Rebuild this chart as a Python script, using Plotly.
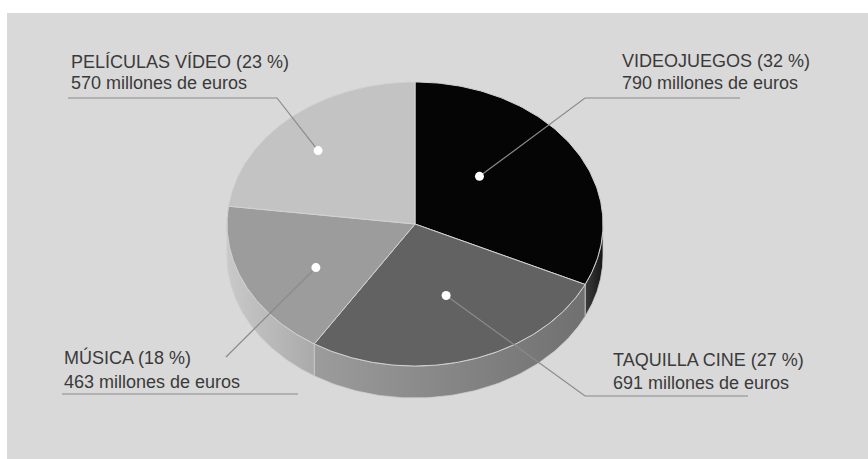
import numpy as np
import plotly.graph_objects as go

# Spending on audiovisual entertainment, by sector
categories = ["VIDEOJUEGOS", "TAQUILLA CINE", "MÚSICA", "PELÍCULAS VÍDEO"]
percent = [32, 27, 18, 23]
millions = [790, 691, 463, 570]

# slice styling
top_colors = ["#050505", "#626262", "#9c9c9c", "#c3c3c3"]
side_colors = [("#3c3c3c", "#161616"), ("#9c9c9c", "#707070"),
               ("#c9c9c9", "#aaaaaa"), ("#cfcfcf", "#bdbdbd")]
dot_radius = [0.48, 0.53, 0.61, 0.73]
dot_shift = [12, 2, 5, 3.5]

# label layout: x, first-line y, second-line y, leader polyline after the dot
label_pos = [
    (620, 60.5, 82.5, [(585, 98), (740, 98)]),
    (611, 360, 383, [(585, 396), (748, 396)]),
    (62, 357, 381.5, [(226, 357)]),
    (69, 61.5, 83, [(277, 98), (68, 98)]),
]
extra_rules = [[(62, 394), (298, 394)]]

W, H = 868, 459
CX, CY, RX, RY, DEPTH = 415, 224, 188, 142, 32
BG = "#d9d9d9"
INK = "#3a3a3a"
LEADER = "#8a8a8a"


def ell(theta_deg, r=1.0, dy=0.0):
    t = np.radians(theta_deg)
    return CX + r * RX * np.cos(t), CY - r * RY * np.sin(t) + dy


# slice angles: start at 12 o'clock, run clockwise
total = sum(percent)
spans = [360.0 * p / total for p in percent]
starts, ends = [], []
a = 90.0
for s in spans:
    starts.append(a)
    ends.append(a - s)
    a -= s

fig = go.Figure()

# side walls (only the front half of the disc is visible)
for i in range(len(categories)):
    hi = min(starts[i], 0.0)
    lo = max(ends[i], -180.0)
    if lo >= hi:
        continue
    th = np.linspace(hi, lo, 80)
    xt, yt = ell(th)
    xb, yb = ell(th[::-1], dy=DEPTH)
    xs = np.concatenate([xt, xb, xt[:1]])
    ys = np.concatenate([yt, yb, yt[:1]])
    c1, c2 = side_colors[i]
    fig.add_trace(go.Scatter(
        x=xs, y=ys, mode="lines", fill="toself",
        fillgradient=dict(type="horizontal",
                          colorscale=[[0, c1], [1, c2]]),
        line=dict(color="#cdcdcd", width=0.8),
        hoverinfo="skip", showlegend=False))

# top face
for i in range(len(categories)):
    th = np.linspace(starts[i], ends[i], 120)
    xa, ya = ell(th)
    xs = np.concatenate([[CX], xa, [CX]])
    ys = np.concatenate([[CY], ya, [CY]])
    fig.add_trace(go.Scatter(
        x=xs, y=ys, mode="lines", fill="toself", fillcolor=top_colors[i],
        line=dict(color="#d2d2d2", width=1),
        hoverinfo="skip", showlegend=False,
        name=categories[i]))

# leader lines and dots
dots_x, dots_y = [], []
for i in range(len(categories)):
    mid = (starts[i] + ends[i]) / 2 + dot_shift[i]
    dx, dy = ell(mid, r=dot_radius[i])
    dots_x.append(dx)
    dots_y.append(dy)
    pts = [(dx, dy)] + label_pos[i][3]
    fig.add_trace(go.Scatter(
        x=[p[0] for p in pts], y=[p[1] for p in pts], mode="lines",
        line=dict(color=LEADER, width=1.2),
        hoverinfo="skip", showlegend=False))

for rule in extra_rules:
    fig.add_trace(go.Scatter(
        x=[p[0] for p in rule], y=[p[1] for p in rule], mode="lines",
        line=dict(color=LEADER, width=1.2),
        hoverinfo="skip", showlegend=False))

fig.add_trace(go.Scatter(
    x=dots_x, y=dots_y, mode="markers",
    marker=dict(color="white", size=9, line=dict(width=0)),
    hoverinfo="skip", showlegend=False))

# labels
font = dict(family="Liberation Sans, Arial, sans-serif", size=18, color=INK)
for i, cat in enumerate(categories):
    x, y1, y2, _ = label_pos[i]
    fig.add_annotation(x=x, y=y1, text=f"{cat} ({percent[i]} %)",
                       showarrow=False, xanchor="left", yanchor="middle",
                       font=font)
    fig.add_annotation(x=x, y=y2, text=f"{millions[i]} millones de euros",
                       showarrow=False, xanchor="left", yanchor="middle",
                       font=font)

fig.update_layout(
    width=W, height=H,
    margin=dict(l=0, r=0, t=0, b=0),
    paper_bgcolor="white",
    plot_bgcolor=BG,
    xaxis=dict(range=[7, W], domain=[7 / W, 1], visible=False, fixedrange=True),
    yaxis=dict(range=[H, 13], domain=[0, 1 - 13 / H], visible=False, fixedrange=True),
    showlegend=False,
)

fig.write_html("out.html", config={"displayModeBar": False})
